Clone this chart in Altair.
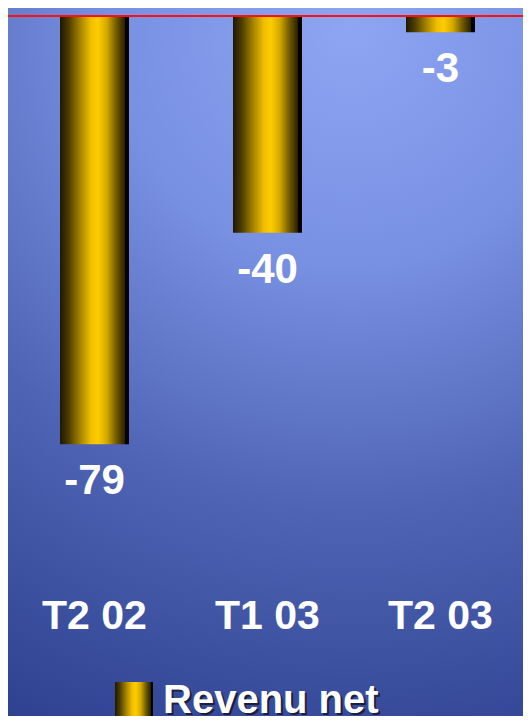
import altair as alt
import pandas as pd

categories = ["T2 02", "T1 03", "T2 03"]
values = [-79, -40, -3]
labels = ["-79", "-40", "-3"]
legend_label = "Revenu net"

df = pd.DataFrame({"cat": categories, "value": values, "label": labels})

W, H = 515, 708
FONT = "Liberation Sans"

bar_grad = {
    "gradient": "linear", "x1": 0, "x2": 1, "y1": 0, "y2": 0,
    "stops": [
        {"offset": 0.0, "color": "#1e1800"},
        {"offset": 0.12, "color": "#4a3b00"},
        {"offset": 0.3, "color": "#a88600"},
        {"offset": 0.45, "color": "#f0c000"},
        {"offset": 0.55, "color": "#ffcc00"},
        {"offset": 0.68, "color": "#d2a800"},
        {"offset": 0.82, "color": "#6e5800"},
        {"offset": 0.94, "color": "#2a2100"},
        {"offset": 0.95, "color": "#000000"},
        {"offset": 1.0, "color": "#000000"},
    ],
}

bg_grad = {
    "gradient": "radial", "x1": 0.62, "y1": 0.03, "r1": 0,
    "x2": 0.62, "y2": 0.03, "r2": 1.13,
    "stops": [
        {"offset": 0.0, "color": "#8ea5f3"},
        {"offset": 0.3, "color": "#7890e2"},
        {"offset": 0.6, "color": "#4f64b4"},
        {"offset": 1.0, "color": "#2b3d8d"},
    ],
}

xs = alt.X("cat:N", sort=categories, axis=None,
           scale=alt.Scale(range=[0, 519], paddingInner=0, paddingOuter=0))
ys = alt.Scale(domain=[-129.15, 1.476], nice=False, zero=False)

one = alt.Data(values=[{"z": 0}])

background = alt.Chart(one).mark_rect(fill=bg_grad, strokeWidth=0).encode(
    x=alt.value(0), x2=alt.value(W), y=alt.value(0), y2=alt.value(H)
)

base = alt.Chart(df)

bars = base.mark_bar(size=69, fill=bar_grad).encode(
    x=xs,
    y=alt.Y("value:Q", scale=ys, axis=None),
)

zero_line = alt.Chart(one).mark_rule(color="#ff1010", strokeWidth=2).encode(
    x=alt.value(0), x2=alt.value(W), y=alt.Y("z:Q", scale=ys, axis=None)
)

value_labels = base.mark_text(
    font=FONT, fontSize=42, fontWeight="bold", color="white",
    baseline="middle", dy=37
).encode(x=xs, y=alt.Y("value:Q", scale=ys, axis=None), text="label:N")

cat_labels = base.mark_text(
    font=FONT, fontSize=41, fontWeight="bold", color="white",
    baseline="middle"
).encode(x=xs, y=alt.value(609), text="cat:N")

legend_swatch = alt.Chart(one).mark_rect(fill=bar_grad).encode(
    x=alt.value(107), x2=alt.value(145), y=alt.value(674), y2=alt.value(H)
)

legend_shadow = alt.Chart(one).mark_text(
    font=FONT, fontSize=40, fontWeight="bold", color="#1a1f3a",
    align="left", baseline="alphabetic", text=legend_label
).encode(x=alt.value(157), y=alt.value(707))

legend_text = alt.Chart(one).mark_text(
    font=FONT, fontSize=40, fontWeight="bold", color="white",
    align="left", baseline="alphabetic", text=legend_label
).encode(x=alt.value(155), y=alt.value(705))

chart = alt.layer(
    background, bars, zero_line, value_labels, cat_labels,
    legend_swatch, legend_shadow, legend_text
).properties(
    width=W, height=H, padding=0, background="#2b3d8d",
    autosize=alt.AutoSizeParams(type="none")
).configure_view(stroke=None)

chart.save("out.html", embed_options={"renderer": "svg", "actions": False})
